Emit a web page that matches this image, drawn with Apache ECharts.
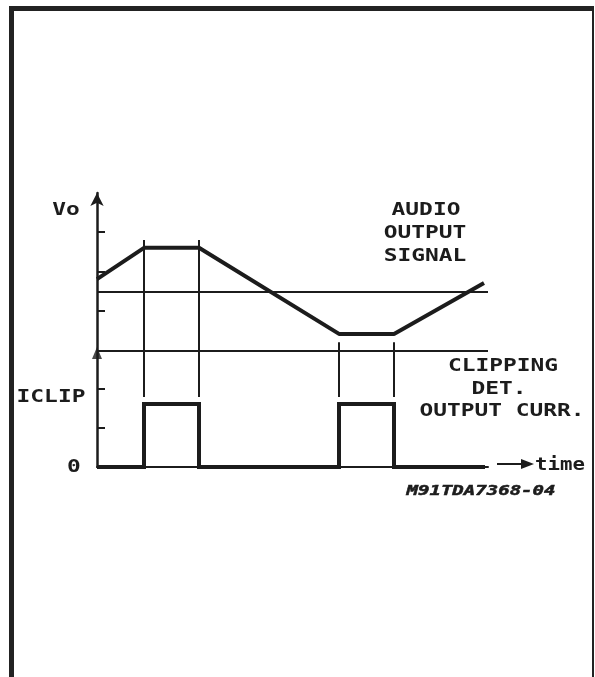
<!DOCTYPE html>
<html>
<head>
<meta charset="utf-8">
<script src="https://cdn.jsdelivr.net/npm/echarts@6/dist/echarts.min.js"></script>
<style>
  html, body { margin: 0; padding: 0; background: #fff; }
  #main { width: 595px; height: 677px; }
</style>
</head>
<body>
<div id="main"></div>
<script>
// time axis in arbitrary units, y axis in arbitrary units (0 = current baseline)
var audioTime = [0, 4.7, 10.2, 24.2, 29.7, 38.7];
var audioVals = [4.8, 5.6, 5.6, 3.4, 3.4, 4.7];

var clipTime = [0, 4.7, 4.7, 10.2, 10.2, 24.2, 24.2, 29.7, 29.7, 38.8];
var clipVals = [0, 0, 1.61, 1.61, 0, 0, 1.61, 1.61, 0, 0];

// horizontal reference levels (signal zero level, separation line)
var refLevels = [4.47, 2.96];

// vertical markers showing where clipping starts / stops
var markerTime = [4.7, 10.2, 24.2, 29.7];
var markerTop = [5.8, 5.8, 3.19, 3.19];
var markerBottom = 1.79;

var yTicks = [1, 2, 4, 5, 6];

var ink = '#1c1c1c';
var monoFont = 'bold 18px "DejaVu Sans Mono"';

var myChart = echarts.init(document.getElementById('main'), null, { renderer: 'canvas' });

function zip(xs, ys) {
  return xs.map(function (x, i) { return [x, ys[i]]; });
}

var markerSegs = markerTime.map(function (t, i) {
  return [{ coord: [t, markerTop[i]] }, { coord: [t, markerBottom] }];
});

function label(text, x, y, sx, font, weight) {
  return {
    type: 'text',
    x: x,
    y: y,
    scaleX: sx,
    style: {
      text: text,
      font: font || monoFont,
      fill: ink,
      stroke: ink,
      lineWidth: weight || 0,
      textAlign: 'center',
      textVerticalAlign: 'middle'
    }
  };
}

var option = {
  animation: false,
  backgroundColor: '#fff',
  grid: {
    left: 97,
    top: 193,
    right: 107,
    bottom: 210,
    outerBoundsMode: 'none',
    containLabel: false
  },
  xAxis: {
    type: 'value',
    min: 0,
    max: 39.1,
    axisLine: { show: true, onZero: false, lineStyle: { color: ink, width: 2 } },
    axisTick: { show: false },
    axisLabel: { show: false },
    splitLine: { show: false }
  },
  yAxis: {
    type: 'value',
    min: 0,
    max: 7,
    interval: 1,
    axisLine: {
      show: true,
      symbol: ['none', 'arrow'],
      symbolSize: [10, 13],
      lineStyle: { color: ink, width: 2.5 }
    },
    axisTick: {
      show: true,
      inside: true,
      length: 8,
      customValues: yTicks,
      lineStyle: { color: ink, width: 2 }
    },
    axisLabel: { show: false },
    splitLine: { show: false }
  },
  series: [
    {
      name: 'markers',
      type: 'line',
      data: [],
      markLine: {
        silent: true,
        symbol: ['none', 'none'],
        label: { show: false },
        lineStyle: { color: ink, width: 2, type: 'solid' },
        data: markerSegs.concat(refLevels.map(function (v) { return { yAxis: v }; }))
      }
    },
    {
      name: 'Audio output signal',
      type: 'line',
      data: zip(audioTime, audioVals),
      symbol: 'none',
      lineStyle: { color: ink, width: 4 },
      z: 5
    },
    {
      name: 'Clipping det. output current',
      type: 'line',
      data: zip(clipTime, clipVals),
      symbol: 'none',
      lineStyle: { color: ink, width: 4, join: 'miter' },
      z: 5
    },
    {
      // arrow head of the lower (current) axis
      name: 'iaxis',
      type: 'scatter',
      data: [[0, 2.91]],
      symbol: 'triangle',
      symbolSize: [10, 12],
      itemStyle: { color: ink },
      z: 6
    }
  ],
  graphic: [
    // frame
    { type: 'rect', shape: { x: 9, y: 6, width: 585, height: 5 }, style: { fill: '#222' } },
    { type: 'rect', shape: { x: 9, y: 6, width: 5, height: 671 }, style: { fill: '#222' } },
    { type: 'rect', shape: { x: 592, y: 6, width: 2, height: 671 }, style: { fill: '#222' } },

    label('Vo', 66, 210, 1.27),
    label('AUDIO', 426, 210, 1.27),
    label('OUTPUT', 425, 233, 1.27),
    label('SIGNAL', 425, 256, 1.27),
    label('CLIPPING', 503, 366, 1.27),
    label('DET.', 499, 389, 1.27),
    label('OUTPUT CURR.', 502, 411, 1.27),
    label('ICLIP', 51, 397, 1.27),
    label('0', 74, 467, 1.27),
    label('time', 560, 465, 1.15),
    label('M91TDA7368-04', 481, 491, 1.36, 'italic bold 14px "DejaVu Sans Mono"', 0.5),

    // "-> time" arrow
    { type: 'line', shape: { x1: 497, y1: 464, x2: 526, y2: 464 }, style: { stroke: ink, lineWidth: 2 } },
    { type: 'polygon', shape: { points: [[521, 459], [534, 464], [521, 469]] }, style: { fill: ink } }
  ]
};

myChart.setOption(option);
window.addEventListener('resize', myChart.resize);
</script>
</body>
</html>
